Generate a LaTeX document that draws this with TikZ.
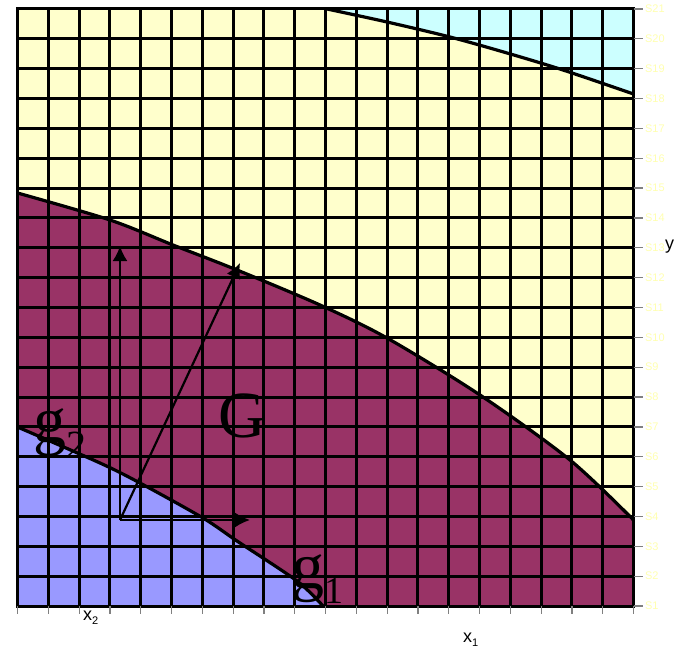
\documentclass[tikz,border=0pt]{standalone}
\usepackage{fontspec}
\setmainfont{Liberation Serif}
\setsansfont{Liberation Sans}
\usetikzlibrary{arrows.meta}

\definecolor{chartyellow}{HTML}{FFFFCC}
\definecolor{chartcyan}{HTML}{CCFFFF}
\definecolor{chartmaroon}{HTML}{993366}
\definecolor{chartlilac}{HTML}{9999FF}
\definecolor{serieslabel}{HTML}{FFFFB0}

\begin{document}
\begin{tikzpicture}[x=1pt, y=-1pt]
    \useasboundingbox (0,0) rectangle (674,647);

    \coordinate (O) at (120,520);
    \coordinate (Ex) at (250,520);
    \coordinate (Ey) at (120,246);
    \coordinate (E) at (240,263);

    % surface bands
    \fill[chartyellow] (17.5,9) rectangle (633.5,606);
    \fill[chartcyan] plot[smooth] coordinates {(327,9) (387,22) (450,37) (507,53) (563,70) (633.5,94)} -- (633.5,9) -- cycle;
    \fill[chartmaroon] plot[smooth] coordinates {(17.5,193) (110,220) (173,245) (237,270) (320,305) (387,338) (480,395) (570,460) (633.5,520)} -- (633.5,606) -- (17.5,606) -- cycle;
    \fill[chartlilac] plot[smooth, tension=0.5] coordinates {(17.5,427) (100,463) (140,483) (203,518) (237,541) (297,581) (323,606)} -- (17.5,606) -- cycle;

    \foreach \i in {0,...,20} {
        \draw[black, line width=3pt, line cap=rect] ({17.5+30.8*\i},9) -- ({17.5+30.8*\i},606);
        \draw[black, line width=3pt, line cap=rect] (17.5,{606-29.85*\i}) -- (633.5,{606-29.85*\i});
    }
    \foreach \i [count=\n] in {0,...,20} {
        \draw[gray, line width=1.2pt] (633.5,{606-29.85*\i}) -- (643,{606-29.85*\i}) node[right, inner sep=1.5pt, serieslabel, font=\sffamily\fontsize{11}{11}\selectfont] (s\n) {S\n};
        \draw[gray, line width=1.2pt] ({17.5+30.8*\i},606) -- ({17.5+30.8*\i},614);
    }

    \draw[line width=3.2pt] plot[smooth] coordinates {(327,9) (387,22) (450,37) (507,53) (563,70) (633.5,94)};
    \draw[line width=3.2pt] plot[smooth] coordinates {(17.5,193) (110,220) (173,245) (237,270) (320,305) (387,338) (480,395) (570,460) (633.5,520)};
    \draw[line width=3.2pt] plot[smooth, tension=0.5] coordinates {(17.5,427) (100,463) (140,483) (203,518) (237,541) (297,581) (323,606)};

    \draw[line width=2.2pt, -{Latex[length=15pt, width=15pt]}] (O) -- (Ex);
    \draw[line width=2.2pt, -{Latex[length=15pt, width=15pt]}] (O) -- (Ey);
    \draw[line width=2.2pt, -{Latex[length=15pt, width=15pt]}] (O) -- (E);

    \node[anchor=base west, inner sep=0pt, font=\fontsize{66}{66}\selectfont] (G) at (218,437) {G};
    \node[anchor=base west, inner sep=0pt, font=\fontsize{66}{66}\selectfont] (g2) at (33,442) {g\raisebox{-16pt}{\fontsize{40}{40}\selectfont 2}};
    \node[anchor=base west, inner sep=0pt, font=\fontsize{66}{66}\selectfont] (g1) at (291,588) {g\raisebox{-15pt}{\fontsize{38}{38}\selectfont 1}};

    \node[anchor=base west, inner sep=0pt, font=\sffamily\fontsize{18}{18}\selectfont] (y) at (665,249) {y};
    \node[anchor=base west, inner sep=0pt, font=\sffamily\fontsize{18}{18}\selectfont] (x2) at (83,620) {x\raisebox{-4pt}{\fontsize{11}{11}\selectfont 2}};
    \node[anchor=base west, inner sep=0pt, font=\sffamily\fontsize{18}{18}\selectfont] (x1) at (463,642) {x\raisebox{-4pt}{\fontsize{11}{11}\selectfont 1}};
\end{tikzpicture}
\end{document}
